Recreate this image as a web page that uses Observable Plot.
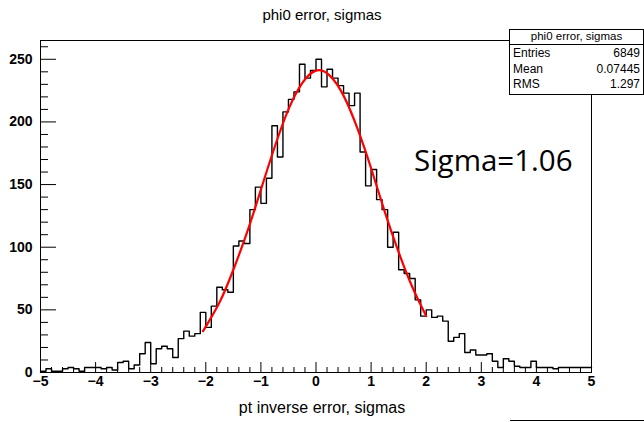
<!DOCTYPE html>
<html><head><meta charset="utf-8">
<script src="https://cdn.jsdelivr.net/npm/d3@7"></script>
<script src="https://cdn.jsdelivr.net/npm/@observablehq/plot@0.6"></script>
<style>
body{margin:0;background:#fff;}
#wrap{position:relative;width:644px;height:422px;font-family:"Liberation Sans",Arial,sans-serif;color:#000;overflow:hidden;}
#wrap svg{position:absolute;left:0;top:0;}
.abs{position:absolute;white-space:nowrap;}
#title{left:0;width:644px;top:6px;text-align:center;font-size:15px;}
#xlabel{left:0;width:644px;top:399px;text-align:center;font-size:16px;}
#sigma{left:414px;top:139px;font-family:"Open Sans","Noto Sans",sans-serif;font-size:29.5px;}
#stats{left:509px;top:29px;width:133px;height:64px;border:1px solid #000;background:#fff;font-size:12px;}
#stats .hd{height:13px;line-height:13px;text-align:center;border-bottom:1px solid #000;font-size:11.5px;padding-bottom:1px;}
#stats .row{position:relative;height:15.5px;line-height:16px;}
#stats .row span.l{position:absolute;left:3px;}
#stats .row span.r{position:absolute;right:3px;}
#bline{left:510px;top:420px;width:134px;height:0;border-top:1px solid #000;}
</style></head><body><div id="wrap"></div>
<script>
// Histogram: 100 bins from -5 to 5
const binLow = -5;
const binWidth = 0.1;
const counts = [
  1,3,1,1,3,4,3,1,4,4,
  4,3,4,2,8,9,3,6,15,24,
  7,19,21,19,12,27,33,29,31,48,
  36,53,68,66,64,101,105,103,130,148,
  135,155,197,172,208,218,224,246,235,241,
  250,228,242,235,229,223,213,223,176,149,
  162,138,130,100,112,82,79,75,58,45,
  50,44,45,41,25,28,31,16,18,14,
  14,15,9,4,11,9,5,4,4,9,
  4,4,4,3,4,4,4,4,4,4
];
// Red fit curve
const fitX = [-2.05,-1.75,-1.5,-1.25,-1,-0.75,-0.5,-0.25,0,0.25,0.5,0.75,1,1.25,1.5,1.75,2.0];
const fitY = [33,56,82,112,146,180,210,231,241,237,221,195,163,128,96,68,45];
// Axis ticks
const xMajor = [-5,-4,-3,-2,-1,0,1,2,3,4,5];
const yMajor = [0,50,100,150,200,250];
const title = "phi0 error, sigmas";
const xLabel = "pt inverse error, sigmas";
const statsTitle = "phi0 error, sigmas";
const statsNames = ["Entries","Mean","RMS"];
const statsValues = ["6849","0.07445","1.297"];
const annotation = "Sigma=1.06";

const W=644,H=422,mL=40,mR=53,mT=40,mB=50;
const innerW=W-mL-mR, innerH=H-mT-mB;
const steps = counts.map((c,i)=>({x: binLow+i*binWidth, y:c}));
steps.push({x: binLow+counts.length*binWidth, y: counts[counts.length-1]});
const fit = fitX.map((x,i)=>({x, y: fitY[i]}));
const xMinor = d3.range(-5,5.0001,0.2).map(v=>Math.round(v*10)/10).filter(v=>!xMajor.includes(v));
const yMinor = d3.range(0,261,10).filter(v=>!yMajor.includes(v));

const chart = Plot.plot({
  width:W, height:H, marginLeft:mL, marginRight:mR, marginTop:mT, marginBottom:mB,
  x:{domain:[-5,5]}, y:{domain:[0,265]},
  style:{fontFamily:"'Liberation Sans',Arial,sans-serif", fontSize:"14px", background:"transparent", color:"#000"},
  marks:[
    Plot.line(steps,{x:"x",y:"y",curve:"step-after",stroke:"#000",strokeWidth:1.4}),
    Plot.line(fit,{x:"x",y:"y",curve:"natural",stroke:"#ff0000",strokeWidth:2.2}),
    Plot.tickX(xMajor,{x:d=>d, insetTop: innerH-10, stroke:"#000"}),
    Plot.tickX(xMinor,{x:d=>d, insetTop: innerH-5, stroke:"#000"}),
    Plot.tickY(yMajor,{y:d=>d, insetRight: innerW-16, stroke:"#000"}),
    Plot.tickY(yMinor,{y:d=>d, insetRight: innerW-8, stroke:"#000"}),
    Plot.frame({stroke:"#000"}),
    Plot.axisX(xMajor,{tickSize:0, tickPadding:4, fontWeight:"bold", label:null}),
    Plot.axisY(yMajor,{tickSize:0, tickPadding:8, fontWeight:"bold", label:null})
  ]
});
const wrap = document.getElementById("wrap");
wrap.appendChild(chart);
function addDiv(id, text){const d=document.createElement("div");d.className="abs";d.id=id;if(text!=null)d.textContent=text;wrap.appendChild(d);return d;}
addDiv("title", title);
addDiv("xlabel", xLabel);
addDiv("sigma", annotation);
const st = addDiv("stats");
const hd = document.createElement("div"); hd.className="hd"; hd.textContent=statsTitle; st.appendChild(hd);
statsNames.forEach((n,i)=>{const r=document.createElement("div");r.className="row";
  const l=document.createElement("span");l.className="l";l.textContent=n;
  const v=document.createElement("span");v.className="r";v.textContent=statsValues[i];
  r.appendChild(l);r.appendChild(v);st.appendChild(r);});
addDiv("bline");
</script></body></html>
